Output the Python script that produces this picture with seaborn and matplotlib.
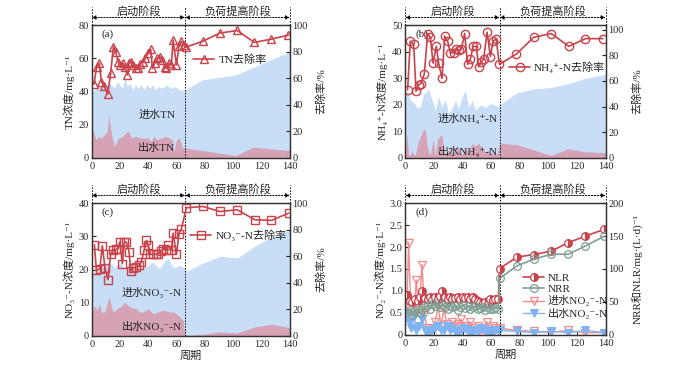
import matplotlib
matplotlib.use("Agg")
import matplotlib.pyplot as plt
import seaborn as sns

sns.set_style("ticks")
plt.rcParams["font.family"] = ["Liberation Serif", "Noto Sans CJK SC", "DejaVu Sans"]
plt.rcParams["xtick.direction"] = "in"
plt.rcParams["ytick.direction"] = "in"

RED = "#c8434c"
BLUE_FILL = "#c8ddf6"
PINK_FILL = "#d6a3b6"
SPLIT = 66

# (a) TN
tn_rate_day = [1.6, 3.5, 5.4, 6.8, 8.7, 11.3, 13.4, 15.3, 17, 18.6, 20.3, 22.2, 23.3, 25.2, 26.4,
               28, 29.2, 31.1, 32.8, 34.4, 36.3, 37.9, 39.8, 41.7, 42.9, 44.5, 46.4, 48.1, 50, 51.6,
               52.8, 54.7, 56.3, 57.5, 59.9, 61.7, 63.4, 65, 66.9, 78.7, 90.5, 102.8, 115, 127, 139]
tn_rate = [55.5, 68.8, 71.3, 57.5, 54.3, 48, 63.8, 83.8, 80, 72.5, 70, 71.3, 68.8, 62.5, 71.3,
           72.5, 70, 67.5, 67.5, 70.8, 72.5, 75, 78.8, 81.8, 67.5, 71.3, 75, 76.3, 73.8, 68.8,
           67.5, 71.3, 70, 88.8, 70, 84.5, 87.8, 85, 83.5, 88, 94, 96, 87, 89.5, 92.5]
tn_in_day = [0, 2, 4, 6, 8, 10, 12, 14, 16, 18, 20, 22, 23.5, 25, 27, 29, 31, 33, 35, 37, 39, 41,
             43, 45, 47, 50, 53, 56, 59, 62, 66, 78, 90, 102, 114, 126, 140]
tn_in = [40, 41, 43, 41, 44, 43, 45, 44, 42, 46, 44, 42, 49, 43, 45, 41, 44, 42, 44, 41, 44, 42,
         44, 41, 43, 42, 44, 42, 43, 41, 41, 47, 48.5, 50, 54.5, 59, 64]
tn_out_day = [0, 3, 5, 7, 9, 11, 12, 14, 16, 19, 22, 24, 26, 28, 31, 34, 37, 40, 42, 44, 46, 49,
              52, 55, 57, 58, 60, 62, 64, 66, 78, 90, 102, 114, 126, 140]
tn_out = [19, 11, 13, 12, 14, 16, 26, 14, 7, 12, 13, 15, 16, 12, 13, 12, 12, 12, 10, 13, 11, 12,
          13, 12, 11, 4, 11, 12, 6, 6, 4.5, 3, 1.5, 6.5, 5.5, 4.5]

# (b) NH4+-N
nh4_rate_day = [1.6, 3.5, 5.8, 7.5, 9.3, 11, 13.3, 15.6, 17.5, 19.4, 21.7, 23.3, 25.7, 27.5, 29.6,
                31.5, 33.8, 35.7, 37.3, 39.2, 41.5, 43.6, 45.5, 47.4, 49.7, 51.3, 53.2, 54.8, 57.2,
                59.5, 61.4, 63.5, 65.8, 77.7, 89.8, 102, 114.3, 126, 138.1]
nh4_rate = [53, 91, 89, 52, 57, 58, 65.5, 97, 94, 74, 87, 74, 62, 95, 91, 82, 82, 85, 84, 85, 97,
            73, 77, 87, 87, 71, 75, 77, 98, 79, 91, 93, 73, 81, 94, 97, 87, 93, 93]
nh4_in_day = [0, 1.6, 3.5, 5.8, 8.2, 10.5, 12.8, 14.7, 16.3, 18.7, 21, 23.3, 25.7, 28, 30.3, 32.7,
              35, 37.3, 39.7, 42, 44.3, 46.7, 49, 52.5, 56, 59.5, 64.2, 66, 78, 90, 102, 114, 126, 140]
nh4_in = [25, 24.9, 21.8, 21, 19, 19.3, 24, 25, 26, 22, 18, 23, 19, 22, 16.7, 18.6, 21.7, 18.6, 23,
          25.5, 19, 21.7, 18, 20, 19, 20.5, 19.5, 20, 24.5, 26, 26.5, 28, 30, 31.5]
nh4_out_day = [0, 1.2, 2.3, 4.7, 7, 9.3, 11, 12.8, 14.2, 15.6, 17.5, 19.4, 21, 22.6, 24.5, 25.7,
               27.3, 30.3, 33.8, 36.2, 39.7, 42, 44.3, 46.7, 49, 51.3, 53.7, 56, 58.3, 60.7, 64, 66,
               78, 90, 102, 114, 126, 140]
nh4_out = [3, 9, 1, 2.3, 1, 6.6, 8.5, 11, 10, 3.5, 1, 7, 1, 7, 8.5, 8.4, 1.6, 3, 1.6, 4.8, 1, 4, 2,
           5.5, 4.5, 5.6, 3.5, 2.3, 3, 1.6, 1.6, 5.5, 5, 3, 1, 3.5, 2.3, 2]

# (c) NO3--N
no3_rate_day = [1.9, 3.3, 5.7, 7.5, 9.4, 11.5, 13.4, 15.3, 17, 18.6, 19.8, 21.7, 23.1, 24.5, 26.4,
                27.6, 29.2, 31.6, 33.5, 35.1, 37, 38.7, 40.1, 41.5, 43.4, 45.3, 47.1, 49, 50.4, 52.3,
                54, 56.3, 57.5, 59.9, 61.7, 63.4, 66.9, 78.7, 90.5, 102.8, 115.2, 127, 139.3]
no3_rate = [68.7, 49.4, 50.6, 68, 51.4, 42.4, 61.9, 64.9, 65.2, 65.7, 70.7, 54.4, 70.7, 70.7, 63.2,
            48.9, 51.1, 51.9, 53.1, 55.6, 64.4, 71.9, 68.2, 61.4, 61.4, 61.4, 61.9, 63.9, 65.7, 64.4,
            68.2, 64.4, 77.4, 61.4, 76.9, 80.7, 96.5, 97.5, 93.7, 95, 87.5, 87, 92.5]
no3_in_day = [0, 3, 6, 8, 10, 14, 16, 20, 23, 27, 29, 34, 39, 43, 48, 52, 54, 58, 62, 66, 67, 79,
              91, 103, 115, 127, 140]
no3_in = [18.2, 20.2, 19.7, 20.7, 21.7, 21.9, 20.5, 22, 20.5, 21, 20.3, 20.5, 21, 22.2, 20.3, 22.8,
          23.3, 20.5, 21.3, 20.5, 19.5, 22, 24, 23.5, 27, 29.8, 31.8]
no3_out_day = [0.5, 2.1, 3.8, 5.7, 6.8, 9.2, 12.3, 15.1, 17.9, 21, 23.3, 25.7, 28, 31.6, 33.9, 36.3,
               39.8, 43.4, 46.9, 49.3, 51.6, 55.1, 57.5, 59.9, 62.2, 64.6, 65.8, 67, 79, 90, 103,
               115, 127, 140]
no3_out = [7.2, 9.2, 7.7, 9.7, 7.2, 7.2, 11.7, 7.2, 8.2, 8.9, 10.2, 9.2, 8.5, 8.2, 7.2, 7.2, 8.2,
           6.7, 7.2, 7.7, 7.7, 7.2, 7.2, 6.7, 5.7, 4.7, 0.7, 0.2, 0.5, 1.2, 0.9, 2.7, 3.5, 2.5]

# (d) NO2--N, NLR, NRR
load_day = [1, 3, 5, 7, 9, 10.5, 12, 14, 16, 17.5, 19, 21, 23, 24.5, 26, 28, 30, 31.5, 33, 35, 37,
            38.5, 40, 42, 44, 45.5, 47, 49, 51, 52.5, 54, 56, 58, 59.5, 61, 63, 65, 66, 78, 90, 102,
            114, 126, 139]
nlr = [60, 52, 50, 55, 52, 57, 66, 56, 54, 58, 53, 57, 55, 59, 66, 57, 54, 58, 55, 56, 58, 54, 57,
       56, 58, 55, 57, 54, 52, 50, 48, 50, 47, 55, 53, 54, 55, 100.7, 118, 122, 127, 140, 150, 160]
nrr = [35, 38, 30, 36, 40, 33, 38, 42, 45, 40, 47, 44, 48, 42, 45, 43, 40, 46, 42, 44, 38, 43, 45,
       41, 44, 40, 42, 44, 39, 41, 43, 38, 42, 40, 39, 41, 40, 85.6, 104.8, 114.9, 122.4, 122.4,
       135, 149.6]
no2_day = [1, 2.3, 4, 6, 7.7, 9.5, 11.7, 13.5, 15, 17, 19, 21, 23, 25, 27, 29, 31, 33, 35, 37, 39,
           41, 43, 45, 47, 49, 51, 53, 55, 57, 59, 61, 63, 65, 66, 78, 90, 102, 114, 126, 139]
no2_in = [0.5, 2.1, 0.5, 0.45, 1.25, 0.5, 1.6, 0.5, 0.15, 0.12, 0.15, 0.3, 0.65, 0.2, 0.6, 0.25,
          0.15, 0.3, 0.2, 0.25, 0.35, 0.15, 0.2, 0.3, 0.1, 0.15, 0.2, 0.1, 0.15, 0.3, 0.1, 0.2,
          0.15, 0.1, 0.15, 0.1, 0.08, 0.06, 0.1, 0.05, 0.05]
no2_out = [0.45, 0.3, 0.15, 0.4, 0.1, 0.2, 0.35, 0.1, 0.05, 0.08, 0.1, 0.15, 0.2, 0.1, 0.12, 0.2,
           0.1, 0.15, 0.08, 0.05, 0.1, 0.15, 0.1, 0.05, 0.12, 0.1, 0.08, 0.15, 0.1, 0.05, 0.1, 0.08,
           0.1, 0.12, 0.1, 0.08, 0.05, 0.08, 0.05, 0.1, 0.05]

stage_labels = ["启动阶段", "负荷提高阶段"]
FS = 7.5


def stage_marks(ax):
    tr = ax.get_xaxis_transform()
    for xv, y0 in [(0, 1.0), (SPLIT, 0.0), (140, 1.0)]:
        ax.plot([xv, xv], [y0, 1.14], transform=tr, color="k", lw=0.7,
                ls=(0, (1.5, 1.5)), clip_on=False, zorder=5)
    for (a, b), lab in zip([(0, SPLIT), (SPLIT, 140)], stage_labels):
        ax.annotate("", xy=(a, 1.058), xytext=(b, 1.058), xycoords=tr, textcoords=tr,
                    arrowprops=dict(arrowstyle="<|-|>", color="k", lw=0.7, ls=(0, (1.5, 1.5)),
                                    shrinkA=0, shrinkB=0, mutation_scale=6))
        ax.text((a + b) / 2, 1.103, lab, transform=tr, ha="center", va="center", fontsize=8)


def style_axes(ax, ax2):
    ax.set_xlim(0, 140)
    ax.set_xticks(range(0, 141, 20))
    for a in (ax, ax2):
        a.tick_params(labelsize=FS, length=3, width=0.8, pad=2)
        for s in a.spines.values():
            s.set_linewidth(0.9)
            s.set_color("#333333")
    ax.tick_params(axis="x", pad=3)


def leg(ax, handles, labels, xy, spacing=0.5):
    ax.legend(handles, labels, loc="center left", bbox_to_anchor=xy, frameon=False,
              fontsize=8, borderpad=0, handlelength=1.9, handletextpad=0.35,
              labelspacing=spacing)


def conc_panel(ax, in_d, in_v, out_d, out_v, r_d, r_v, marker, ymax, ystep, r_max,
               ylab, in_txt, out_txt, txt_xy, rate_lab, leg_xy, tag):
    ax.fill_between(in_d, 0, in_v, color=BLUE_FILL, lw=0, zorder=1)
    ax.fill_between(out_d, 0, out_v, color=PINK_FILL, lw=0, zorder=2)
    ax.set_ylim(0, ymax)
    ax.set_yticks([v * ystep for v in range(int(ymax / ystep) + 1)])
    ax.set_ylabel(ylab, fontsize=8, labelpad=3)
    ax2 = ax.twinx()
    sns.lineplot(x=r_d, y=r_v, ax=ax2, color=RED, lw=1.2, marker=marker, markersize=6,
                 markerfacecolor="none", markeredgecolor=RED, markeredgewidth=1.0,
                 label=rate_lab, legend=False)
    ax2.set_ylim(0, r_max)
    ax2.set_yticks(range(0, 101, 20))
    ax2.set_ylabel("去除率/%", fontsize=8, labelpad=6)
    ax.text(txt_xy[0], txt_xy[1], in_txt, fontsize=8, ha="center", va="center", zorder=6)
    ax.text(txt_xy[0], txt_xy[2], out_txt, fontsize=8, ha="center", va="center", zorder=6)
    h, l = ax2.get_legend_handles_labels()
    leg(ax2, h, l, leg_xy)
    ax.text(0.05, 0.93, tag, transform=ax.transAxes, fontsize=8, ha="left", va="center")
    style_axes(ax, ax2)
    stage_marks(ax)
    return ax2


fig = plt.figure(figsize=(7, 3.7), dpi=100)
ax_a = fig.add_axes([0.131, 0.573, 0.283, 0.359])
ax_b = fig.add_axes([0.579, 0.573, 0.286, 0.359])
ax_c = fig.add_axes([0.131, 0.092, 0.283, 0.359])
ax_d = fig.add_axes([0.579, 0.095, 0.286, 0.356])

conc_panel(ax_a, tn_in_day, tn_in, tn_out_day, tn_out, tn_rate_day, tn_rate, "^", 80, 20, 100,
           "TN浓度/mg·L⁻¹", "进水TN", "出水TN", (46, 26, 6.3), "TN去除率", (0.485, 0.742), "(a)")
conc_panel(ax_b, nh4_in_day, nh4_in, nh4_out_day, nh4_out, nh4_rate_day, nh4_rate, "o", 50, 10,
           103.5, "NH₄⁺-N浓度/mg·L⁻¹", "进水NH₄⁺-N", "出水NH₄⁺-N", (43.5, 15, 2.4),
           "NH₄⁺-N去除率", (0.49, 0.686), "(b)")
conc_panel(ax_c, no3_in_day, no3_in, no3_out_day, no3_out, no3_rate_day, no3_rate, "s", 40, 10,
           100, "NO₃⁻-N浓度/mg·L⁻¹", "进水NO₃⁻-N", "出水NO₃⁻-N", (42.5, 13, 2.8),
           "NO₃⁻-N去除率", (0.47, 0.76), "(c)")
ax_c.set_xlabel("周期", fontsize=8, labelpad=1)

# (d)
sns.lineplot(x=no2_day, y=no2_in, ax=ax_d, color="#f28b8b", lw=1.0, marker="v", markersize=5.5,
             markerfacecolor="none", markeredgecolor="#f28b8b", markeredgewidth=0.9,
             label="进水NO₂⁻-N", legend=False)
sns.lineplot(x=no2_day, y=no2_out, ax=ax_d, color="#7fb3f2", lw=1.0, marker="v", markersize=5.5,
             markerfacecolor="#7fb3f2", markeredgecolor="#7fb3f2", label="出水NO₂⁻-N",
             legend=False)
ax_d.set_ylim(0, 3.0)
ax_d.set_yticks([0, 0.5, 1.0, 1.5, 2.0, 2.5, 3.0])
ax_d.set_yticklabels(["0", "0.5", "1.0", "1.5", "2.0", "2.5", "3.0"])
ax_d.set_ylabel("NO₂⁻-N浓度/mg·L⁻¹", fontsize=8, labelpad=3)
ax_d.set_xlabel("周期", fontsize=8, labelpad=1)
ax_d2 = ax_d.twinx()
sns.lineplot(x=load_day, y=nlr, ax=ax_d2, color=RED, lw=1.2, marker="o", markersize=5.5,
             fillstyle="right", markerfacecolor=RED, markerfacecoloralt="white",
             markeredgecolor=RED, markeredgewidth=0.9, label="NLR", legend=False)
sns.lineplot(x=load_day, y=nrr, ax=ax_d2, color="#7f9f93", lw=1.2, marker="o", markersize=5.5,
             markerfacecolor="none", markeredgecolor="#7f9f93", markeredgewidth=0.9,
             label="NRR", legend=False)
ax_d2.set_ylim(0, 200)
ax_d2.set_yticks(range(0, 201, 50))
ax_d2.set_ylabel("NRR和NLR/mg·(L·d)⁻¹", fontsize=8, labelpad=6)
h1, l1 = ax_d2.get_legend_handles_labels()
h2, l2 = ax_d.get_legend_handles_labels()
leg(ax_d2, h1 + h2, l1 + l2, (0.56, 0.295), spacing=0.12)
ax_d.text(0.05, 0.93, "(d)", transform=ax_d.transAxes, fontsize=8, ha="left", va="center")
style_axes(ax_d, ax_d2)
stage_marks(ax_d)

fig.savefig("out.png", dpi=100)
